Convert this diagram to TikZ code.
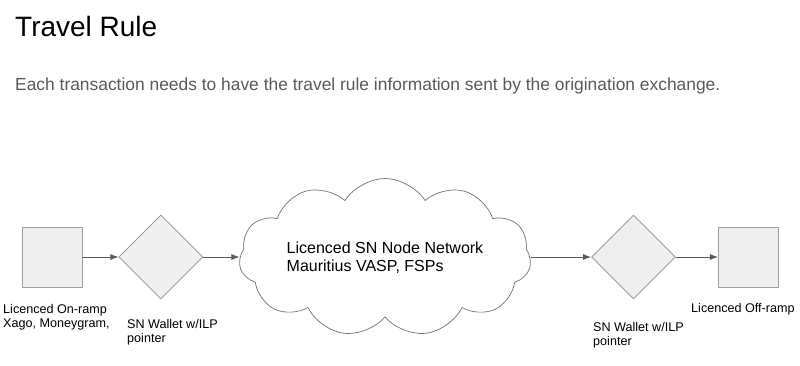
\documentclass[tikz,border=0pt]{standalone}
\usepackage{fontspec}
\setmainfont{Liberation Sans}
\usepackage{tikz}
\usetikzlibrary{arrows.meta,positioning,shapes.geometric,shapes.symbols}
\definecolor{ShapeFill}{HTML}{EFEFEF}
\definecolor{ShapeLine}{HTML}{9E9E9E}
\definecolor{ArrowGray}{HTML}{595959}
\definecolor{SubGray}{HTML}{595959}

\begin{document}
\begin{tikzpicture}[x=1pt,y=-1pt,>={Latex[length=8pt,width=6pt]}]
\tikzstyle{box}=[rectangle,draw=ShapeLine,line width=0.9pt,fill=ShapeFill,minimum size=60pt,inner sep=0pt]
\tikzstyle{wallet}=[diamond,aspect=1,draw=ShapeLine,line width=0.9pt,fill=ShapeFill,minimum width=84pt,minimum height=84pt,inner sep=0pt]
\tikzstyle{net}=[cloud,cloud puffs=11,cloud puff arc=115,cloud ignores aspect,draw=ArrowGray!85,line width=0.7pt,fill=white,inner sep=0pt,minimum width=292pt,minimum height=158pt,align=left,font=\fontsize{16}{17.5}\selectfont]
\tikzstyle{caption}=[align=left,inner sep=0pt,font=\fontsize{12.6}{14}\selectfont]
\tikzstyle{link}=[->,draw=ArrowGray,fill=ArrowGray,line width=0.8pt]
\useasboundingbox (0,0) rectangle (800,366);
% heading
\node[anchor=base west,inner sep=0pt,font=\fontsize{28}{32}\selectfont] (title) at (15,37) {Travel Rule};
\node[anchor=base west,inner sep=0pt,text=SubGray,font=\fontsize{17.4}{20}\selectfont] (sub) at (15,91) {Each transaction needs to have the travel rule information sent by the origination exchange.};
% flow
\node[box] (on) at (52,257) {};
\node[wallet,right=36pt of on] (w1) {};
\node[net] (cloudnet) at (385,257.5) {Licenced SN Node Network\\Mauritius VASP, FSPs};
\node[wallet] (w2) at (633.5,257) {};
\node[box,right=42pt of w2] (off) {};
% captions
\node[caption,anchor=north west] (onlbl) at (3,304.5) {Licenced On-ramp\\Xago, Moneygram,};
\node[caption,anchor=north west] (w1lbl) at (127,319.5) {SN Wallet w/ILP\\pointer};
\node[caption,anchor=north west] (w2lbl) at (593,322.5) {SN Wallet w/ILP\\pointer};
\node[caption,anchor=north west] (offlbl) at (691,303.5) {Licenced Off-ramp};
\draw[link] (on) -- (w1);
\draw[link] (w1.east) -- (w1.east -| cloudnet.west);
\draw[link] (cloudnet.east |- w2.west) -- (w2.west);
\draw[link] (w2) -- (off);
\end{tikzpicture}
\end{document}
